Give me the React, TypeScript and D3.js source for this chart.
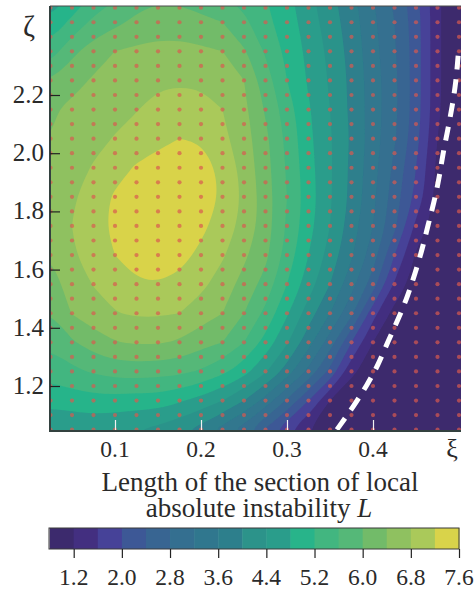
import React, { useEffect, useRef } from "react";
import * as d3 from "d3";

// xi of each grid column, zeta of each grid row (top row first)
const xiGrid = [0.025, 0.05, 0.075, 0.1, 0.125, 0.15, 0.175, 0.2, 0.225, 0.25, 0.275, 0.3, 0.325, 0.35, 0.375, 0.4, 0.425, 0.45, 0.475, 0.5];
const zetaGrid = [2.55, 2.45, 2.35, 2.25, 2.15, 2.05, 1.95, 1.85, 1.75, 1.65, 1.55, 1.45, 1.35, 1.25, 1.15, 1.05];

// L
const lengthL = [
  [4.4, 4.8, 5.2, 5.5, 5.75, 5.9, 5.85, 5.75, 5.6, 5.4, 5.2, 4.9, 4.5, 4.1, 3.7, 3.2, 2.7, 2.1, 1.3, 0.7],
  [4.9, 5.3, 5.7, 5.9, 6.1, 6.2, 6.2, 6.1, 6.0, 5.7, 5.3, 5.0, 4.6, 4.2, 3.8, 3.3, 2.8, 2.2, 1.3, 0.7],
  [5.4, 5.9, 6.2, 6.4, 6.48, 6.52, 6.52, 6.48, 6.4, 6.05, 5.55, 5.1, 4.7, 4.3, 3.85, 3.35, 2.85, 2.2, 1.3, 0.7],
  [6.0, 6.25, 6.45, 6.52, 6.6, 6.72, 6.74, 6.72, 6.6, 6.4, 5.8, 5.2, 4.75, 4.35, 3.9, 3.4, 2.9, 2.2, 1.3, 0.7],
  [6.35, 6.5, 6.62, 6.7, 6.78, 6.95, 7.0, 6.98, 6.8, 6.5, 5.95, 5.4, 4.85, 4.4, 3.9, 3.4, 2.9, 2.2, 1.3, 0.7],
  [6.4, 6.58, 6.7, 6.82, 6.98, 7.1, 7.2, 7.17, 6.9, 6.58, 6.1, 5.5, 4.9, 4.45, 3.95, 3.4, 2.85, 2.15, 1.2, 0.7],
  [6.45, 6.65, 6.83, 7.05, 7.24, 7.35, 7.42, 7.35, 7.12, 6.65, 6.15, 5.55, 4.95, 4.45, 3.9, 3.35, 2.7, 2.0, 1.1, 0.7],
  [6.5, 6.75, 7.0, 7.25, 7.45, 7.55, 7.55, 7.4, 7.15, 6.72, 6.2, 5.6, 5.0, 4.45, 3.9, 3.3, 2.6, 1.9, 1.05, 0.7],
  [6.5, 6.8, 7.05, 7.3, 7.5, 7.55, 7.5, 7.3, 7.02, 6.68, 6.2, 5.55, 4.95, 4.4, 3.8, 3.2, 2.5, 1.5, 0.95, 0.7],
  [6.42, 6.75, 7.0, 7.2, 7.4, 7.45, 7.35, 7.1, 6.85, 6.48, 6.1, 5.45, 4.8, 4.25, 3.65, 3.0, 2.0, 1.15, 0.8, 0.7],
  [6.25, 6.55, 6.82, 7.0, 7.15, 7.18, 7.08, 6.9, 6.62, 6.25, 5.85, 5.2, 4.6, 4.0, 3.35, 2.6, 1.55, 0.95, 0.7, 0.7],
  [6.0, 6.42, 6.62, 6.78, 6.85, 6.85, 6.8, 6.6, 6.4, 6.0, 5.5, 4.85, 4.2, 3.6, 2.9, 1.75, 1.05, 0.75, 0.7, 0.7],
  [5.7, 5.95, 6.2, 6.38, 6.44, 6.44, 6.35, 6.15, 6.0, 5.6, 5.05, 4.45, 3.75, 3.0, 2.0, 1.2, 0.8, 0.7, 0.7, 0.7],
  [5.35, 5.5, 5.65, 5.75, 5.78, 5.75, 5.7, 5.55, 5.3, 4.95, 4.45, 3.8, 3.1, 2.3, 1.3, 0.95, 0.75, 0.7, 0.7, 0.7],
  [4.95, 5.0, 5.05, 5.05, 5.0, 5.0, 4.85, 4.65, 4.4, 4.0, 3.45, 2.75, 2.0, 1.2, 0.85, 0.7, 0.7, 0.7, 0.7, 0.7],
  [4.4, 4.45, 4.5, 4.45, 4.4, 4.3, 4.1, 3.85, 3.45, 3.0, 2.35, 1.7, 1.2, 0.9, 0.7, 0.7, 0.7, 0.7, 0.7, 0.7],
];

// band edges of the colour bar and the colour of each band
const levels = [0.8, 1.2, 1.6, 2.0, 2.4, 2.8, 3.2, 3.6, 4.0, 4.4, 4.8, 5.2, 5.6, 6.0, 6.4, 6.8, 7.2, 7.6];
const bandColors = ["#3c2a6d", "#432f80", "#464298", "#3d5896", "#386592", "#346f90", "#30778e", "#2d7f8c", "#2c938a", "#2a9d8b", "#28b48a", "#42b680", "#55b878", "#72bb69", "#8fc160", "#aac95a", "#d9d34a"];

const colorTicks = [1.2, 2.0, 2.8, 3.6, 4.4, 5.2, 6.0, 6.8, 7.6];
const xiTicks = [0.1, 0.2, 0.3, 0.4];
const zetaTicks = [1.2, 1.4, 1.6, 1.8, 2.0, 2.2];

// where the calculation was run
const dotXi = [0.025, 0.05, 0.075, 0.1, 0.125, 0.15, 0.175, 0.2, 0.225, 0.25, 0.275, 0.3, 0.325, 0.35, 0.375, 0.4, 0.425, 0.45, 0.475, 0.5];
const dotZeta = [2.5, 2.45, 2.4, 2.35, 2.3, 2.25, 2.2, 2.15, 2.1, 2.05, 2.0, 1.95, 1.9, 1.85, 1.8, 1.75, 1.7, 1.65, 1.6, 1.55, 1.5, 1.45, 1.4, 1.35, 1.3, 1.25, 1.2, 1.15, 1.1, 1.05];

// zero-length boundary (dashed white)
const boundaryXi = [0.358, 0.377, 0.393, 0.406, 0.417, 0.429, 0.44, 0.449, 0.457, 0.464, 0.471, 0.477, 0.481, 0.487, 0.492, 0.4965, 0.499];
const boundaryZeta = [1.05, 1.128, 1.203, 1.272, 1.351, 1.427, 1.506, 1.588, 1.667, 1.753, 1.832, 1.915, 1.994, 2.08, 2.159, 2.245, 2.335];

const plot = { left: 50, right: 461, top: 6, bottom: 431 };
const bar = { left: 49, right: 459, top: 528, bottom: 549 };

const x = d3.scaleLinear().domain([0.1, 0.4]).range([115, 373]);
const y = d3.scaleLinear().domain([1.2, 2.2]).range([386, 95]);
const c = d3.scaleLinear().domain([1.2, 7.6]).range([73.7, 459]);

// extra columns/rows each side so the smoothed rings run past the frame
const PAD = 2;
const nCols = xiGrid.length + PAD * 2;
const nRows = zetaGrid.length + PAD * 2;
const flat: number[] = [];
for (let j = 0; j < nRows; j++) {
  const row = lengthL[Math.min(zetaGrid.length - 1, Math.max(0, j - PAD))];
  for (let i = 0; i < nCols; i++) {
    flat.push(row[Math.min(xiGrid.length - 1, Math.max(0, i - PAD))]);
  }
}
const iToX = d3.scaleLinear().domain([PAD, PAD + xiGrid.length - 1]).range([x(xiGrid[0]), x(xiGrid[xiGrid.length - 1])]);
const jToY = d3.scaleLinear().domain([PAD, PAD + zetaGrid.length - 1]).range([y(zetaGrid[0]), y(zetaGrid[zetaGrid.length - 1])]);

const contourGen = d3.contours().size([nCols, nRows]).thresholds(levels.slice(1, -1));
const bands = contourGen(flat);
const ringLine = d3
  .line<number[]>()
  .x((p) => iToX(p[0] - 0.5))
  .y((p) => jToY(p[1] - 0.5))
  .curve(d3.curveBasisClosed);

const bandPath = (geom: d3.ContourMultiPolygon) =>
  geom.coordinates
    .flat()
    .map((ring) => ringLine(ring.slice(0, -1)))
    .join("");

const boundaryLine = d3
  .line<number>()
  .x((d) => x(d))
  .y((_, i) => y(boundaryZeta[i]))
  .curve(d3.curveBasis);

const serif = "'Liberation Serif', serif";

export default function App() {
  const yAxisRef = useRef<SVGGElement>(null);
  const xAxisRef = useRef<SVGGElement>(null);
  const cAxisRef = useRef<SVGGElement>(null);

  useEffect(() => {
    const yAxis = d3.select(yAxisRef.current!);
    yAxis.call(d3.axisRight(y).tickValues(zetaTicks).tickSize(10).tickFormat(() => ""));
    yAxis.select(".domain").remove();
    yAxis.selectAll("line").attr("stroke", "#222").attr("stroke-width", 1.2);

    const xAxis = d3.select(xAxisRef.current!);
    xAxis.call(d3.axisTop(x).tickValues(xiTicks).tickSize(10).tickFormat(() => ""));
    xAxis.select(".domain").remove();
    xAxis.selectAll("line").attr("stroke", "#f2f2f2").attr("stroke-width", 1.2);

    const cAxis = d3.select(cAxisRef.current!);
    cAxis.call(d3.axisBottom(c).tickValues(colorTicks).tickSize(9).tickFormat(() => ""));
    cAxis.select(".domain").remove();
    cAxis.selectAll("line").attr("stroke", "#222").attr("stroke-width", 1.2);
  }, []);

  return (
    <svg
      width={475}
      height={590}
      style={{ position: "absolute", left: 0, top: 0, background: "#fff" }}
      fontFamily={serif}
      fill="#2a2a2a"
    >
      <defs>
        <clipPath id="plot-clip">
          <rect x={plot.left} y={plot.top} width={plot.right - plot.left} height={plot.bottom - plot.top} />
        </clipPath>
        <filter id="soft" x="0" y="0" width="100%" height="100%">
          <feGaussianBlur stdDeviation={0.6} />
        </filter>
      </defs>

      <g clipPath="url(#plot-clip)">
        <g filter="url(#soft)">
          <rect x={plot.left - 5} y={plot.top - 5} width={plot.right - plot.left + 10} height={plot.bottom - plot.top + 10} fill={bandColors[0]} />
          {bands.map((b, i) => (
            <path key={i} d={bandPath(b)} fill={bandColors[i + 1]} fillRule="evenodd" />
          ))}
          {dotZeta.map((z) =>
            dotXi.map((xi) => (
              <circle key={`${xi}-${z}`} cx={x(xi)} cy={y(z)} r={2.1} fill="#d85a50" opacity={0.7} />
            ))
          )}
          <path
            d={boundaryLine(boundaryXi) ?? ""}
            fill="none"
            stroke="#fff"
            strokeWidth={5}
            strokeDasharray="14 10"
          />
        </g>
      </g>

      <path
        d={`M${plot.left},${plot.top}V${plot.bottom}H${plot.right}`}
        fill="none"
        stroke="#33413f"
        strokeWidth={2}
      />
      <path d={`M${plot.left},${plot.top}H${plot.right}`} fill="none" stroke="#4a4a4a" strokeWidth={1} />

      <g ref={yAxisRef} transform={`translate(${plot.left},0)`} />
      <g ref={xAxisRef} transform={`translate(0,${plot.bottom - 1})`} />

      <g fontSize={25} textAnchor="end">
        {zetaTicks.map((t) => (
          <text key={t} x={44} y={y(t) + 8}>
            {t.toFixed(1)}
          </text>
        ))}
      </g>
      <text x={23} y={36} fontSize={29}>ζ</text>

      <g fontSize={23.5} textAnchor="middle">
        {xiTicks.map((t) => (
          <text key={t} x={x(t)} y={457}>
            {t.toFixed(1)}
          </text>
        ))}
      </g>
      <text x={452} y={457} fontSize={26} textAnchor="middle">ξ</text>

      <g fontSize={27} textAnchor="middle">
        <text x={260} y={491}>Length of the section of local</text>
        <text x={259} y={517}>
          absolute instability <tspan fontStyle="italic">L</tspan>
        </text>
      </g>

      {bandColors.map((color, i) => (
        <rect
          key={color}
          x={c(levels[i])}
          y={bar.top}
          width={c(levels[i + 1]) - c(levels[i]) + 0.5}
          height={bar.bottom - bar.top}
          fill={color}
        />
      ))}
      <rect
        x={bar.left}
        y={bar.top}
        width={bar.right - bar.left}
        height={bar.bottom - bar.top}
        fill="none"
        stroke="#3b3b3b"
        strokeWidth={1}
      />
      <g ref={cAxisRef} transform={`translate(0,${bar.bottom})`} />
      <g fontSize={23.5} textAnchor="middle">
        {colorTicks.map((t) => (
          <text key={t} x={c(t)} y={585}>
            {t.toFixed(1)}
          </text>
        ))}
      </g>
    </svg>
  );
}
